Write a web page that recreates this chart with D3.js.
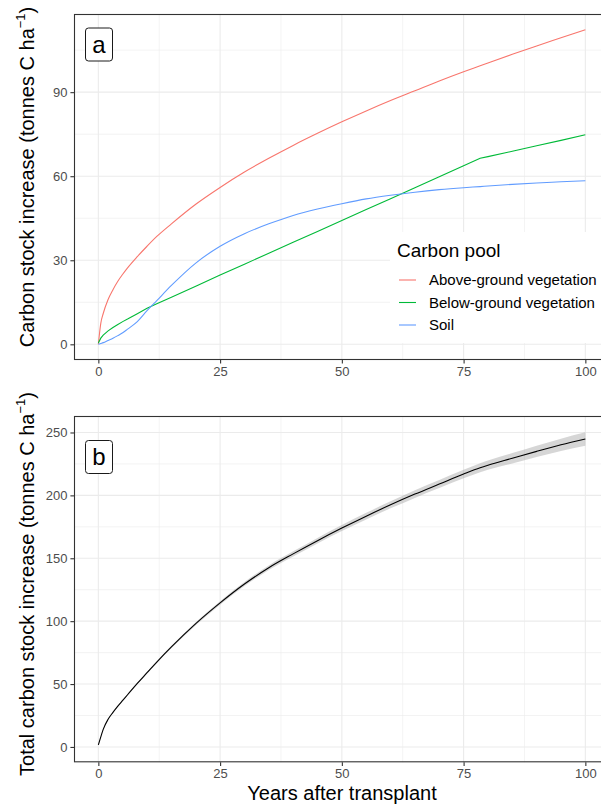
<!DOCTYPE html>
<html><head><meta charset="utf-8">
<script src="https://cdn.jsdelivr.net/npm/d3@7"></script>
<style>
html,body{margin:0;padding:0;background:#fff;}
svg{display:block;font-family:"Liberation Sans",Arial,sans-serif;}
</style></head>
<body><svg id="c" width="601" height="804"></svg>
<script>
// ---- data ----
const years = [0, 0.5, 1, 2, 3, 4, 5, 6, 8, 10, 12, 15, 20, 25, 30, 35, 40, 45, 50, 55, 60, 65, 70, 75, 78.4, 80, 85, 90, 95, 100];
const aboveGround = [0, 7.5, 11, 16, 19.5, 22.5, 25, 27.3, 31.3, 35, 38.5, 43, 50, 56, 61.5, 66.4, 71, 75.3, 79.4, 83.3, 87, 90.5, 94, 97.3, 99.4, 100.4, 103.5, 106.5, 109.4, 112.3];
const belowGround = [0.5, 2.2, 3.3, 4.8, 6, 7.1, 8.1, 9, 10.9, 12.9, 14.5, 16.8, 20.7, 24.7, 28.6, 32.5, 36.4, 40.3, 44.2, 48.1, 52.0, 55.9, 59.8, 63.7, 66.4, 67, 68.9, 70.9, 72.8, 74.8];
const soil = [0, 0.3, 0.6, 1.4, 2.2, 3.1, 4.1, 5.4, 8.1, 12.0, 15.6, 21.0, 29.0, 35.0, 39.5, 43.0, 46.0, 48.3, 50.2, 51.9, 53.2, 54.3, 55.2, 55.9, 56.3, 56.5, 57.1, 57.6, 58, 58.4];
const total = [1.6, 8, 14, 22, 27.5, 32.5, 37, 41.5, 50.5, 59, 67.5, 79.5, 98, 114.5, 129.5, 142.5, 153.5, 164, 174, 183.5, 192.5, 201, 209, 217, 222, 224, 229.5, 235, 240.2, 244.8];
const totalLower = [1.3, 7.7, 13.6, 21.6, 27, 32, 36.4, 40.9, 49.8, 58.2, 66.6, 78.5, 96.8, 113.1, 127.9, 140.7, 151.5, 161.8, 171.6, 180.9, 189.7, 198, 205.8, 213.6, 218.4, 220.3, 225.4, 230.5, 235.3, 239.5];
const totalUpper = [1.9, 8.3, 14.4, 22.4, 28, 33, 37.6, 42.1, 51.2, 59.8, 68.4, 80.5, 99.2, 115.9, 131.1, 144.3, 155.5, 166.2, 176.4, 186.1, 195.3, 204, 212.2, 220.4, 225.6, 227.7, 233.6, 239.5, 245.1, 250.1];
const poolNames = ["Above-ground vegetation", "Below-ground vegetation", "Soil"];
const poolColors = ["#F8766D", "#00BA38", "#619CFF"];
const xTicks = [0, 25, 50, 75, 100];
const xMinor = [12.5, 37.5, 62.5, 87.5];
const yTicksA = [0, 30, 60, 90];
const yMinorA = [15, 45, 75, 105];
const yTicksB = [0, 50, 100, 150, 200, 250];
const yMinorB = [25, 75, 125, 175, 225];

const svg = d3.select("#c");
const L = 74, R = 609.7;
const x = d3.scaleLinear().domain([-5, 105]).range([L, R]);
const yA = d3.scaleLinear().domain([-5.6, 117.9]).range([360, 14]);
const yB = d3.scaleLinear().domain([-12.2, 263.1]).range([762.3, 416]);

function panel(y, yTicks, yMinor, top, bottom) {
  const g = svg.append("g");
  g.append("rect").attr("x", L).attr("y", top).attr("width", R - L).attr("height", bottom - top).attr("fill", "#fff");
  g.selectAll(".xmin").data(xMinor).join("line").attr("x1", d => x(d)).attr("x2", d => x(d)).attr("y1", top).attr("y2", bottom).attr("stroke", "#EBEBEB").attr("stroke-width", 0.6);
  g.selectAll(".ymin").data(yMinor).join("line").attr("y1", d => y(d)).attr("y2", d => y(d)).attr("x1", L).attr("x2", R).attr("stroke", "#EBEBEB").attr("stroke-width", 0.6);
  g.selectAll(".xmaj").data(xTicks).join("line").attr("x1", d => x(d)).attr("x2", d => x(d)).attr("y1", top).attr("y2", bottom).attr("stroke", "#EBEBEB").attr("stroke-width", 1.1);
  g.selectAll(".ymaj").data(yTicks).join("line").attr("y1", d => y(d)).attr("y2", d => y(d)).attr("x1", L).attr("x2", R).attr("stroke", "#EBEBEB").attr("stroke-width", 1.1);
  return g;
}
function frame(g, y, yTicks, top, bottom) {
  g.append("rect").attr("x", L + 0.5).attr("y", top + 0.5).attr("width", R - L).attr("height", bottom - top - 1)
    .attr("fill", "none").attr("stroke", "#333333").attr("stroke-width", 1.1);
  const xa = g.append("g").attr("transform", `translate(0,${bottom})`)
    .call(d3.axisBottom(x).tickValues(xTicks).tickSize(3.6).tickPadding(3).tickFormat(d3.format("d")));
  const ya = g.append("g").attr("transform", `translate(${L},0)`)
    .call(d3.axisLeft(y).tickValues(yTicks).tickSize(3.6).tickPadding(3).tickFormat(d3.format("d")));
  [xa, ya].forEach(a => {
    a.select(".domain").remove();
    a.selectAll("line").attr("stroke", "#333333").attr("stroke-width", 1.1);
    a.selectAll("text").attr("fill", "#4D4D4D").attr("font-size", 13).attr("font-family", "Liberation Sans, Arial, sans-serif");
  });
}
function tag(g, letter, cy) {
  g.append("rect").attr("x", 85.5).attr("y", cy - 16.5).attr("width", 27).attr("height", 33).attr("rx", 3)
    .attr("fill", "#fff").attr("stroke", "#1a1a1a").attr("stroke-width", 1);
  g.append("text").attr("x", 99).attr("y", cy + 8).attr("text-anchor", "middle").attr("font-size", 24).attr("fill", "#000").text(letter);
}
function ytitle(label, cy) {
  const t = svg.append("text").attr("transform", `translate(34,${cy}) rotate(-90)`).attr("text-anchor", "middle")
    .attr("font-size", 20).attr("fill", "#000");
  t.append("tspan").text(label + " (tonnes C ha");
  t.append("tspan").attr("font-size", 13).attr("dy", -9).text("\u22121");
  t.append("tspan").attr("dy", 9).text(")");
}

// ---- panel a ----
const gA = panel(yA, yTicksA, yMinorA, 14, 360);
const series = [aboveGround, belowGround, soil];
const lineA = d3.line().x(d => x(d[0])).y(d => yA(d[1])).curve(d3.curveMonotoneX);
const lineALin = d3.line().x(d => x(d[0])).y(d => yA(d[1]));
series.forEach((s, i) => {
  gA.append("path").datum(years.map((yr, j) => [yr, s[j]]))
    .attr("d", i === 1 ? lineALin : lineA).attr("fill", "none").attr("stroke", poolColors[i]).attr("stroke-width", 1.1);
});
const leg = gA.append("g");
leg.append("rect").attr("x", 390).attr("y", 232).attr("width", 220).attr("height", 111).attr("fill", "#fff");
leg.append("text").attr("x", 397).attr("y", 257).attr("font-size", 19).attr("fill", "#000").text("Carbon pool");
poolNames.forEach((n, i) => {
  const cy = 280 + i * 22.5;
  leg.append("line").attr("x1", 399).attr("x2", 416).attr("y1", cy).attr("y2", cy).attr("stroke", poolColors[i]).attr("stroke-width", 1.1);
  leg.append("text").attr("x", 429).attr("y", cy + 5.2).attr("font-size", 15).attr("fill", "#000").text(n);
});
frame(gA, yA, yTicksA, 14, 360);
tag(gA, "a", 44.5);

// ---- panel b ----
const gB = panel(yB, yTicksB, yMinorB, 416, 762.3);
const area = d3.area().x(d => x(d[0])).y0(d => yB(d[1])).y1(d => yB(d[2])).curve(d3.curveMonotoneX);
gB.append("path").datum(years.map((yr, j) => [yr, totalLower[j], totalUpper[j]]))
  .attr("d", area).attr("fill", "#999999").attr("fill-opacity", 0.4);
const lineB = d3.line().x(d => x(d[0])).y(d => yB(d[1])).curve(d3.curveMonotoneX);
gB.append("path").datum(years.map((yr, j) => [yr, total[j]]))
  .attr("d", lineB).attr("fill", "none").attr("stroke", "#000").attr("stroke-width", 1.1);
frame(gB, yB, yTicksB, 416, 762.3);
tag(gB, "b", 457);

// ---- titles ----
ytitle("Carbon stock increase", 177);
ytitle("Total carbon stock increase", 584);
svg.append("text").attr("x", 342).attr("y", 800).attr("text-anchor", "middle").attr("font-size", 20).attr("fill", "#000").text("Years after transplant");
</script></body></html>
